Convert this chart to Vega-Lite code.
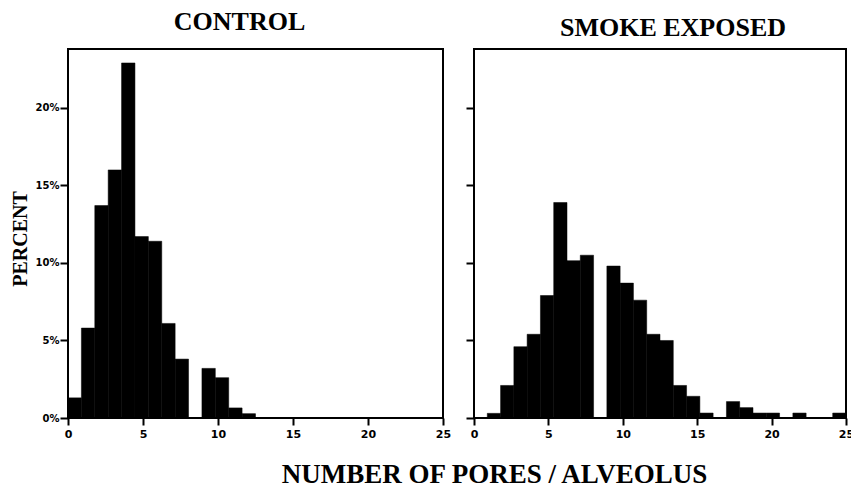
{
  "$schema": "https://vega.github.io/schema/vega-lite/v6.json",
  "padding": {"left": 9, "top": 8, "right": 0, "bottom": 0},
  "bounds": "flush",
  "spacing": 31,
  "background": "white",
  "config": {
    "view": {"stroke": "black", "strokeWidth": 2},
    "axis": {"domain": false, "grid": false, "tickColor": "black", "tickWidth": 2, "labelColor": "black", "labelFont": "DejaVu Sans", "labelFontWeight": "bold", "titleColor": "black", "titleFont": "Liberation Serif", "titleFontWeight": "bold"},
    "title": {"font": "Liberation Serif", "fontWeight": "bold", "fontSize": 26, "color": "black"}
  },
  "datasets": {
    "bins": [
      {"group": "CONTROL", "x0": 0, "x1": 0.893, "pct": 1.3},
      {"group": "CONTROL", "x0": 0.893, "x1": 1.786, "pct": 5.8},
      {"group": "CONTROL", "x0": 1.786, "x1": 2.679, "pct": 13.7},
      {"group": "CONTROL", "x0": 2.679, "x1": 3.571, "pct": 16.0},
      {"group": "CONTROL", "x0": 3.571, "x1": 4.464, "pct": 22.9},
      {"group": "CONTROL", "x0": 4.464, "x1": 5.357, "pct": 11.7},
      {"group": "CONTROL", "x0": 5.357, "x1": 6.25, "pct": 11.4},
      {"group": "CONTROL", "x0": 6.25, "x1": 7.143, "pct": 6.1},
      {"group": "CONTROL", "x0": 7.143, "x1": 8.036, "pct": 3.8},
      {"group": "CONTROL", "x0": 8.036, "x1": 8.929, "pct": 0},
      {"group": "CONTROL", "x0": 8.929, "x1": 9.821, "pct": 3.2},
      {"group": "CONTROL", "x0": 9.821, "x1": 10.714, "pct": 2.6},
      {"group": "CONTROL", "x0": 10.714, "x1": 11.607, "pct": 0.65},
      {"group": "CONTROL", "x0": 11.607, "x1": 12.5, "pct": 0.28},
      {"group": "CONTROL", "x0": 12.5, "x1": 13.393, "pct": 0},
      {"group": "CONTROL", "x0": 13.393, "x1": 14.286, "pct": 0},
      {"group": "CONTROL", "x0": 14.286, "x1": 15.179, "pct": 0},
      {"group": "CONTROL", "x0": 15.179, "x1": 16.071, "pct": 0},
      {"group": "CONTROL", "x0": 16.071, "x1": 16.964, "pct": 0},
      {"group": "CONTROL", "x0": 16.964, "x1": 17.857, "pct": 0},
      {"group": "CONTROL", "x0": 17.857, "x1": 18.75, "pct": 0},
      {"group": "CONTROL", "x0": 18.75, "x1": 19.643, "pct": 0},
      {"group": "CONTROL", "x0": 19.643, "x1": 20.536, "pct": 0},
      {"group": "CONTROL", "x0": 20.536, "x1": 21.429, "pct": 0},
      {"group": "CONTROL", "x0": 21.429, "x1": 22.321, "pct": 0},
      {"group": "CONTROL", "x0": 22.321, "x1": 23.214, "pct": 0},
      {"group": "CONTROL", "x0": 23.214, "x1": 24.107, "pct": 0},
      {"group": "CONTROL", "x0": 24.107, "x1": 25, "pct": 0},
      {"group": "SMOKE EXPOSED", "x0": 0, "x1": 0.893, "pct": 0},
      {"group": "SMOKE EXPOSED", "x0": 0.893, "x1": 1.786, "pct": 0.3},
      {"group": "SMOKE EXPOSED", "x0": 1.786, "x1": 2.679, "pct": 2.1},
      {"group": "SMOKE EXPOSED", "x0": 2.679, "x1": 3.571, "pct": 4.6},
      {"group": "SMOKE EXPOSED", "x0": 3.571, "x1": 4.464, "pct": 5.4},
      {"group": "SMOKE EXPOSED", "x0": 4.464, "x1": 5.357, "pct": 7.9},
      {"group": "SMOKE EXPOSED", "x0": 5.357, "x1": 6.25, "pct": 13.9},
      {"group": "SMOKE EXPOSED", "x0": 6.25, "x1": 7.143, "pct": 10.15},
      {"group": "SMOKE EXPOSED", "x0": 7.143, "x1": 8.036, "pct": 10.5},
      {"group": "SMOKE EXPOSED", "x0": 8.036, "x1": 8.929, "pct": 0},
      {"group": "SMOKE EXPOSED", "x0": 8.929, "x1": 9.821, "pct": 9.8},
      {"group": "SMOKE EXPOSED", "x0": 9.821, "x1": 10.714, "pct": 8.7},
      {"group": "SMOKE EXPOSED", "x0": 10.714, "x1": 11.607, "pct": 7.6},
      {"group": "SMOKE EXPOSED", "x0": 11.607, "x1": 12.5, "pct": 5.4},
      {"group": "SMOKE EXPOSED", "x0": 12.5, "x1": 13.393, "pct": 5.0},
      {"group": "SMOKE EXPOSED", "x0": 13.393, "x1": 14.286, "pct": 2.1},
      {"group": "SMOKE EXPOSED", "x0": 14.286, "x1": 15.179, "pct": 1.4},
      {"group": "SMOKE EXPOSED", "x0": 15.179, "x1": 16.071, "pct": 0.32},
      {"group": "SMOKE EXPOSED", "x0": 16.071, "x1": 16.964, "pct": 0},
      {"group": "SMOKE EXPOSED", "x0": 16.964, "x1": 17.857, "pct": 1.06},
      {"group": "SMOKE EXPOSED", "x0": 17.857, "x1": 18.75, "pct": 0.67},
      {"group": "SMOKE EXPOSED", "x0": 18.75, "x1": 19.643, "pct": 0.32},
      {"group": "SMOKE EXPOSED", "x0": 19.643, "x1": 20.536, "pct": 0.32},
      {"group": "SMOKE EXPOSED", "x0": 20.536, "x1": 21.429, "pct": 0},
      {"group": "SMOKE EXPOSED", "x0": 21.429, "x1": 22.321, "pct": 0.32},
      {"group": "SMOKE EXPOSED", "x0": 22.321, "x1": 23.214, "pct": 0},
      {"group": "SMOKE EXPOSED", "x0": 23.214, "x1": 24.107, "pct": 0},
      {"group": "SMOKE EXPOSED", "x0": 24.107, "x1": 25, "pct": 0.32}
    ]
  },
  "hconcat": [
    {
      "width": 375,
      "height": 369,
      "title": {"text": "CONTROL", "dx": -16, "offset": -12, "baseline": "bottom"},
      "data": {"name": "bins"},
      "transform": [{"filter": "datum.group === 'CONTROL' && datum.pct > 0"}],
      "mark": {"type": "bar", "color": "black", "stroke": "black", "strokeWidth": 0.5},
      "encoding": {
        "x": {
          "field": "x0", "type": "quantitative",
          "scale": {"domain": [0, 25], "nice": false, "zero": false},
          "axis": {
            "values": [0, 5, 10, 15, 20, 25], "tickSize": 7, "labelFontSize": 11, "labelPadding": 3, "labelFlush": false,
            "title": "NUMBER OF PORES / ALVEOLUS", "titleFontSize": 27, "titleX": 426, "titleY": 64,
            "titleBaseline": "alphabetic", "titleAlign": "center"
          }
        },
        "x2": {"field": "x1"},
        "y": {
          "field": "pct", "type": "quantitative",
          "scale": {"domain": [0, 23.8], "nice": false},
          "axis": {
            "values": [0, 5, 10, 15, 20], "labelExpr": "datum.value + '%'", "tickSize": 8, "labelPadding": 1, "labelFontSize": 10,
            "title": "PERCENT", "titleFontSize": 20, "titleAngle": 270, "titleX": -48, "titleY": 189.5,
            "titleAlign": "center", "titleBaseline": "middle"
          }
        },
        "y2": {"datum": 0}
      }
    },
    {
      "width": 372,
      "height": 369,
      "title": {"text": "SMOKE EXPOSED", "dx": 13, "offset": -18, "baseline": "bottom"},
      "data": {"name": "bins"},
      "transform": [{"filter": "datum.group === 'SMOKE EXPOSED' && datum.pct > 0"}],
      "mark": {"type": "bar", "color": "black", "stroke": "black", "strokeWidth": 0.5},
      "encoding": {
        "x": {
          "field": "x0", "type": "quantitative",
          "scale": {"domain": [0, 25], "nice": false, "zero": false},
          "axis": {"values": [0, 5, 10, 15, 20, 25], "tickSize": 7, "labelFontSize": 11, "labelPadding": 3, "labelFlush": false, "title": null}
        },
        "x2": {"field": "x1"},
        "y": {
          "field": "pct", "type": "quantitative",
          "scale": {"domain": [0, 23.8], "nice": false},
          "axis": {"values": [0, 5, 10, 15, 20], "labels": false, "tickSize": 8, "title": null}
        },
        "y2": {"datum": 0}
      }
    }
  ]
}
